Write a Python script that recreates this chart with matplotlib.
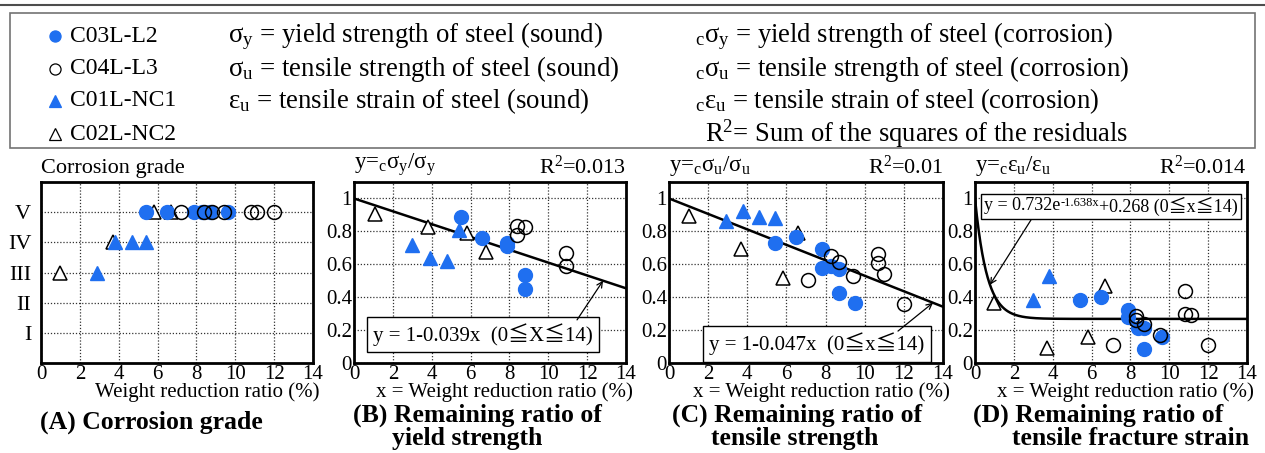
import numpy as np
import matplotlib
matplotlib.use("Agg")
import matplotlib.pyplot as plt
from matplotlib.patches import Rectangle
from matplotlib.offsetbox import TextArea, HPacker, AnnotationBbox

plt.rcParams["font.family"] = ["Liberation Serif", "Noto Sans CJK JP", "DejaVu Serif"]
plt.rcParams["mathtext.fontset"] = "custom"
plt.rcParams["mathtext.rm"] = "Liberation Serif"
plt.rcParams["mathtext.it"] = "Liberation Serif:italic"

BLUE = "#1f6ff0"

# ---- data (weight reduction ratio %, value) ----
# (A) corrosion grade
a_c03_x = [5.4, 6.5, 7.9, 8.3, 8.7, 9.6]
a_c03_y = [5, 5, 5, 5, 5, 5]
a_c04_x = [7.2, 8.4, 8.8, 9.4, 10.8, 11.1, 12.0]
a_c04_y = [5, 5, 5, 5, 5, 5, 5]
a_nc1_x = [2.9, 3.8, 4.7, 5.4]
a_nc1_y = [3, 4, 4, 4]
a_nc2_x = [1.0, 3.7, 5.8, 6.7]
a_nc2_y = [3, 4, 5, 5]

# (B) remaining ratio of yield strength
b_c03_x = [5.5, 6.6, 7.9, 7.9, 8.8, 8.8]
b_c03_y = [0.886, 0.762, 0.73, 0.71, 0.537, 0.447]
b_c04_x = [8.4, 8.8, 8.4, 10.9, 10.9]
b_c04_y = [0.833, 0.829, 0.778, 0.667, 0.59]
b_nc1_x = [3.0, 3.9, 4.8, 5.4]
b_nc1_y = [0.717, 0.636, 0.62, 0.81]
b_nc2_x = [1.1, 3.8, 5.8, 6.8]
b_nc2_y = [0.906, 0.829, 0.79, 0.677]

# (C) remaining ratio of tensile strength
c_c03_x = [5.4, 6.5, 7.8, 7.8, 8.3, 8.7, 8.7, 9.5]
c_c03_y = [0.732, 0.764, 0.693, 0.575, 0.59, 0.569, 0.423, 0.366]
c_c04_x = [7.1, 8.3, 8.7, 9.4, 10.7, 10.7, 11.0, 12.0]
c_c04_y = [0.504, 0.652, 0.616, 0.53, 0.66, 0.606, 0.54, 0.358]
c_nc1_x = [2.9, 3.8, 4.6, 5.4]
c_nc1_y = [0.86, 0.925, 0.89, 0.88]
c_nc2_x = [1.0, 3.7, 5.8, 6.6]
c_nc2_y = [0.896, 0.693, 0.518, 0.789]

# (D) remaining ratio of tensile fracture strain
d_c03_x = [5.4, 6.5, 7.9, 7.9, 8.4, 8.7, 8.7, 9.6]
d_c03_y = [0.38, 0.404, 0.32, 0.28, 0.21, 0.21, 0.087, 0.158]
d_c04_x = [7.1, 8.3, 8.3, 8.7, 9.5, 10.8, 10.8, 11.1, 12.0]
d_c04_y = [0.11, 0.285, 0.26, 0.24, 0.17, 0.44, 0.30, 0.29, 0.11]
d_nc1_x = [3.0, 3.8]
d_nc1_y = [0.38, 0.53]
d_nc2_x = [1.0, 3.7, 5.8, 6.7]
d_nc2_y = [0.366, 0.091, 0.158, 0.47]

grade_labels = ["I", "II", "III", "IV", "V"]

W, H = 1265, 453
fig = plt.figure(figsize=(W / 100, H / 100), dpi=100)


def box(left, top, right, bottom):
    return [left / W, 1 - bottom / H, (right - left) / W, (bottom - top) / H]


def style(ax):
    ax.set_xlim(0, 14)
    ax.set_xticks(range(0, 15, 2))
    ax.grid(True, color="0.2", linestyle=(0, (1, 1.5)), linewidth=0.9)
    ax.set_axisbelow(True)
    for s in ax.spines.values():
        s.set_linewidth(2)
    ax.tick_params(direction="in", length=0, labelsize=15, pad=1.5)


def scatter_all(ax, c03, c04, nc1, nc2):
    ax.plot(*nc2, "^", ms=9.5, mfc="white", mec="black", mew=1.1, ls="none")
    ax.plot(*nc1, "^", ms=9.5, mfc=BLUE, mec=BLUE, ls="none")
    ax.plot(*c03, "o", ms=10, mfc=BLUE, mec=BLUE, ls="none")
    ax.plot(*c04, "o", ms=10, mfc="none", mec="black", mew=1.1, ls="none")


def ratio_axes(ax):
    style(ax)
    ax.set_ylim(0, 1.1)
    ax.set_yticks([0, 0.2, 0.4, 0.6, 0.8, 1.0])
    ax.set_yticklabels(["0", "0.2", "0.4", "0.6", "0.8", "1"])


def xlabel(ax, text):
    ax.set_xlabel(text, fontsize=15, loc="right")
    ax.xaxis.set_label_coords(1.025, -0.105)
    ax.xaxis.label.set_va("top")


xs = np.linspace(0, 14, 300)

# (A)
axA = fig.add_axes(box(41, 182, 313, 363))
style(axA)
axA.set_ylim(0, 6)
axA.set_yticks([1, 2, 3, 4, 5])
axA.set_yticklabels(grade_labels)
axA.tick_params(axis="y", pad=7, labelsize=16)
scatter_all(axA, (a_c03_x, a_c03_y), (a_c04_x, a_c04_y), (a_nc1_x, a_nc1_y), (a_nc2_x, a_nc2_y))
xlabel(axA, "Weight reduction ratio (%)")
axA.text(0.0, 1.02, "Corrosion grade", transform=axA.transAxes, fontsize=16, ha="left", va="bottom")

# (B)
axB = fig.add_axes(box(354, 182, 626, 363))
ratio_axes(axB)
axB.plot(xs, 1 - 0.039 * xs, color="black", lw=1.8)
scatter_all(axB, (b_c03_x, b_c03_y), (b_c04_x, b_c04_y), (b_nc1_x, b_nc1_y), (b_nc2_x, b_nc2_y))

# (C)
axC = fig.add_axes(box(669, 182, 943, 363))
ratio_axes(axC)
axC.plot(xs, 1 - 0.047 * xs, color="black", lw=1.8)
scatter_all(axC, (c_c03_x, c_c03_y), (c_c04_x, c_c04_y), (c_nc1_x, c_nc1_y), (c_nc2_x, c_nc2_y))

# (D)
axD = fig.add_axes(box(975, 182, 1247, 363))
ratio_axes(axD)
axD.plot(xs, 0.732 * np.exp(-1.638 * xs) + 0.268, color="black", lw=1.8)
scatter_all(axD, (d_c03_x, d_c03_y), (d_c04_x, d_c04_y), (d_nc1_x, d_nc1_y), (d_nc2_x, d_nc2_y))

for ax in (axB, axC, axD):
    xlabel(ax, "x = Weight reduction ratio (%)")

# headers above axes
heads = [(axB, r"y=${}_\mathrm{c}$σ$_\mathrm{y}$/σ$_\mathrm{y}$", r"R$^\mathrm{2}$=0.013"),
         (axC, r"y=${}_\mathrm{c}$σ$_\mathrm{u}$/σ$_\mathrm{u}$", r"R$^\mathrm{2}$=0.01"),
         (axD, r"y=${}_\mathrm{c}$ε$_\mathrm{u}$/ε$_\mathrm{u}$", r"R$^\mathrm{2}$=0.014")]
for ax, left, right in heads:
    ax.text(0.0, 1.02, left, transform=ax.transAxes, fontsize=16.5, va="bottom")
    ax.text(1.0, 1.02, right, transform=ax.transAxes, fontsize=16, va="bottom", ha="right")

# fit equation boxes with arrows
bbox = dict(boxstyle="square,pad=0.3", fc="white", ec="black", lw=1.0)
arrow = dict(arrowstyle="->", color="black", lw=0.9, shrinkA=0, shrinkB=0)

axB.text(6.64, 0.173, "y = 1-0.039x  (0≦X≦14)", fontsize=15, ha="center", va="center", bbox=bbox)
axB.annotate("", xy=(12.82, 1 - 0.039 * 12.82), xytext=(11.48, 0.262), arrowprops=arrow)

axC.text(7.56, 0.115, "y = 1-0.047x  (0≦x≦14)", fontsize=15, ha="center", va="center", bbox=bbox)
axC.annotate("", xy=(13.49, 1 - 0.047 * 13.49), xytext=(11.7, 0.194), arrowprops=arrow)

eq_parts = HPacker(children=[TextArea("y = 0.732e", textprops=dict(fontsize=13)),
                             TextArea("-1.638x", textprops=dict(fontsize=9)),
                             TextArea("+0.268 (0≦x≦14)", textprops=dict(fontsize=13))],
                   align="top", pad=0, sep=0)
eq_box = AnnotationBbox(eq_parts, (7.0, 0.951), xycoords="data", frameon=True, pad=0.2,
                        bboxprops=dict(boxstyle="square,pad=0.2", fc="white", ec="black", lw=1.0),
                        zorder=5)
axD.add_artist(eq_box)
axD.annotate("", xy=(0.77, 0.732 * np.exp(-1.638 * 0.77) + 0.268), xytext=(2.88, 0.869),
             arrowprops=arrow)

# panel captions
fig.text(40 / W, 1 - 422 / H, "(A) Corrosion grade", fontsize=18.5, fontweight="bold", va="center")
fig.text(353 / W, 1 - 427 / H, "(B) Remaining ratio of\n      yield strength", fontsize=18.5,
         fontweight="bold", va="center", linespacing=1.0)
fig.text(672 / W, 1 - 427 / H, "(C) Remaining ratio of\n      tensile strength", fontsize=18.5,
         fontweight="bold", va="center", linespacing=1.0)
fig.text(973 / W, 1 - 427 / H, "(D) Remaining ratio of\n      tensile fracture strain", fontsize=18.5,
         fontweight="bold", va="center", linespacing=1.0)

# legend block
fig.add_artist(plt.Line2D([0, 1], [1 - 5 / H, 1 - 5 / H], color="0.3", lw=1.5))
fig.add_artist(Rectangle((10 / W, 1 - 148 / H), 1245 / W, 135 / H, fill=False, ec="0.45", lw=1.2,
                         transform=fig.transFigure))
rows = [36, 69, 101, 134]
names = ["C03L-L2", "C04L-L3", "C01L-NC1", "C02L-NC2"]
marks = [("o", BLUE, BLUE), ("o", "white", "black"), ("^", BLUE, BLUE), ("^", "white", "black")]
for r, n, (m, fc, ec) in zip(rows, names, marks):
    fig.add_artist(plt.Line2D([55 / W], [1 - r / H], marker=m, ms=8, mfc=fc, mec=ec, mew=0.9,
                              transform=fig.transFigure))
    fig.text(70 / W, 1 - r / H, n, fontsize=17, va="center")

col2 = [r"σ$_\mathrm{y}$ = yield strength of steel (sound)",
        r"σ$_\mathrm{u}$ = tensile strength of steel (sound)",
        r"ε$_\mathrm{u}$ = tensile strain of steel (sound)"]
col3 = [r"${}_\mathrm{c}$σ$_\mathrm{y}$ = yield strength of steel (corrosion)",
        r"${}_\mathrm{c}$σ$_\mathrm{u}$ = tensile strength of steel (corrosion)",
        r"${}_\mathrm{c}$ε$_\mathrm{u}$ = tensile strain of steel (corrosion)",
        r"R$^\mathrm{2}$= Sum of the squares of the residuals"]
for r, t in zip(rows, col2):
    fig.text(228 / W, 1 - r / H, t, fontsize=19.4, va="center")
for i, (r, t) in enumerate(zip(rows, col3)):
    fig.text((705 if i == 3 else 695) / W, 1 - r / H, t, fontsize=19.2, va="center")

fig.savefig("out.png", dpi=100)
